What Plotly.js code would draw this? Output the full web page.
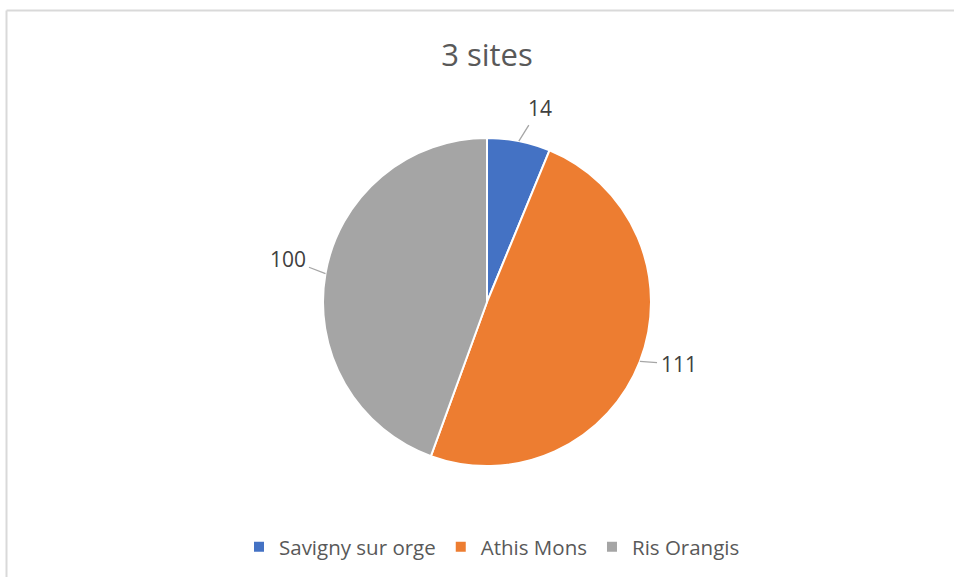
<!DOCTYPE html>
<html>
<head>
<meta charset="utf-8">
<script src="https://cdn.plot.ly/plotly-3.0.1.min.js"></script>
<style>
  html, body { margin: 0; padding: 0; background: #fff; }
  #plot { width: 954px; height: 577px; }
</style>
</head>
<body>
<div id="plot"></div>
<script>
// chart data
var sites = ["Savigny sur orge", "Athis Mons", "Ris Orangis"];
var counts = [14, 111, 100];
var colors = ["#4472C4", "#ED7D31", "#A5A5A5"];

var W = 954, H = 577;
var cx = 487, cy = 302, R = 164;

var pie = {
    type: "pie",
    labels: sites,
    values: counts,
    sort: false,
    direction: "clockwise",
    rotation: 0,
    textinfo: "none",
    hoverinfo: "label+value",
    marker: {colors: colors, line: {color: "#ffffff", width: 2}},
    domain: {
        x: [(cx - R) / W, (cx + R) / W],
        y: [(H - cy - R) / H, (H - cy + R) / H]
    }
};

// value labels outside the slices with leader lines
var total = counts.reduce(function (a, b) { return a + b; }, 0);
var notes = [];
var start = 0;
counts.forEach(function (v) {
    var mid = (start + v / 2) / total * 2 * Math.PI;
    start += v;
    var s = Math.sin(mid), c = Math.cos(mid);
    var px = cx + R * s;
    var py = cy - R * c;
    notes.push({
        x: px / W, y: 1 - py / H, xref: "paper", yref: "paper",
        text: String(v),
        showarrow: true, arrowhead: 0, arrowwidth: 1.3, arrowcolor: "#A6A6A6",
        standoff: 0, startstandoff: 2,
        ax: 36 * s + 14 * Math.sign(s) * Math.abs(c),
        ay: -32 * c - 9 * Math.abs(s),
        font: {family: "Open Sans", size: 21, color: "#404040"}
    });
});

var bx = 6.5 / W, by = 1 - 10.5 / H;

var layout = {
    width: W, height: H,
    margin: {l: 0, r: 0, t: 0, b: 0},
    paper_bgcolor: "#ffffff",
    title: {
        text: "3 sites",
        x: 487 / W, xanchor: "center", xref: "paper",
        y: 1 - 55 / H, yanchor: "middle", yref: "paper",
        font: {family: "Open Sans", size: 31, color: "#595959"}
    },
    showlegend: true,
    legend: {
        orientation: "h",
        x: 492 / W, xanchor: "center",
        y: 1 - 547 / H, yanchor: "middle",
        font: {family: "Open Sans", size: 20.5, color: "#595959"},
        traceorder: "normal"
    },
    annotations: notes,
    shapes: [
        {type: "line", xref: "paper", yref: "paper", x0: bx, x1: bx, y0: 0, y1: by,
         line: {color: "#D9D9D9", width: 2}},
        {type: "line", xref: "paper", yref: "paper", x0: bx, x1: 1, y0: by, y1: by,
         line: {color: "#D9D9D9", width: 2}}
    ]
};

Plotly.newPlot("plot", [pie], layout, {displayModeBar: false, staticPlot: true});
</script>
</body>
</html>
